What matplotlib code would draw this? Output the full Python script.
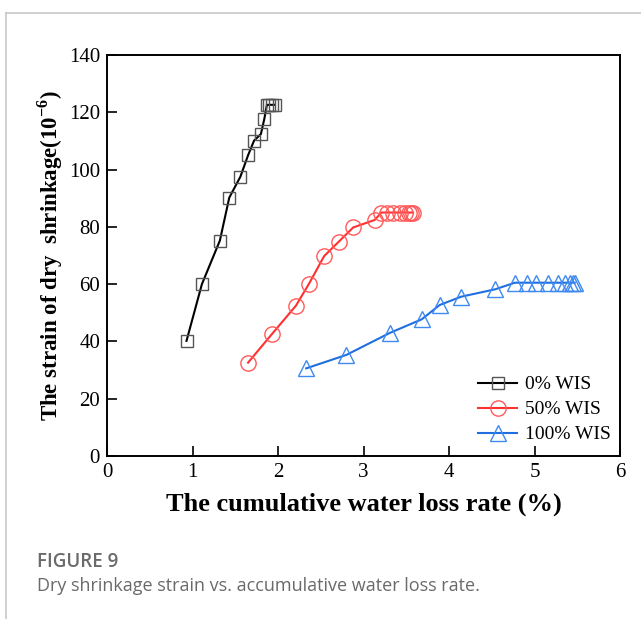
import matplotlib.pyplot as plt
from matplotlib.lines import Line2D

# water loss rate (%) and dry shrinkage strain (10^-6)
x_0 = [0.93, 1.11, 1.32, 1.43, 1.56, 1.65, 1.72, 1.80, 1.84, 1.87, 1.90, 1.93, 1.96]
y_0 = [40.2, 60.0, 75.2, 90.2, 97.5, 105.0, 110.1, 112.4, 117.7, 122.6, 122.6, 122.6, 122.6]

x_50 = [1.65, 1.93, 2.21, 2.36, 2.54, 2.71, 2.88, 3.13, 3.21, 3.27, 3.35, 3.43, 3.49, 3.53, 3.56, 3.58]
y_50 = [32.6, 42.6, 52.5, 60.0, 69.8, 74.8, 79.8, 82.4, 85.0, 85.0, 85.0, 85.0, 85.0, 85.0, 85.0, 85.0]

x_100 = [2.33, 2.80, 3.31, 3.68, 3.89, 4.14, 4.54, 4.77, 4.91, 5.02, 5.16, 5.28, 5.36, 5.41, 5.45, 5.47]
y_100 = [30.6, 35.3, 43.0, 47.7, 52.7, 55.6, 58.2, 60.5, 60.5, 60.5, 60.5, 60.5, 60.5, 60.5, 60.5, 60.5]

labels = ['0% WIS', '50% WIS', '100% WIS']

W, H = 641, 619
fig = plt.figure(figsize=(W / 100, H / 100), dpi=100)
plt.rcParams['font.family'] = ['Liberation Serif', 'DejaVu Serif']
plt.rcParams['mathtext.fontset'] = 'custom'
plt.rcParams['mathtext.rm'] = 'Liberation Serif'
plt.rcParams['mathtext.bf'] = 'Liberation Serif:bold'

ax = fig.add_axes([107 / W, (H - 456) / H, 513 / W, 401 / H])

ax.plot(x_0, y_0, '-', color='black', lw=1.5, marker='s', ms=9,
        mfc='none', mec='#555555', mew=1.0, label=labels[0])
ax.plot(x_50, y_50, '-', color='#ff3030', lw=1.5, marker='o', ms=11,
        mfc='none', mec='#ff5a5a', mew=1.0, label=labels[1])
ax.plot(x_100, y_100, '-', color='#1f6fe0', lw=1.5, marker='^', ms=12,
        mfc='none', mec='#3f8af0', mew=1.0, label=labels[2])

ax.set_xlim(0, 6)
ax.set_ylim(0, 140)
ax.set_xticks(range(0, 7))
ax.set_yticks(range(0, 141, 20))
ax.tick_params(direction='in', length=7, width=1.2, labelsize=15, pad=5)
for s in ax.spines.values():
    s.set_linewidth(1.4)

ax.set_xlabel('The cumulative water loss rate (%)', fontsize=19, fontweight='bold', labelpad=8)
ax.set_ylabel(r'The strain of dry  shrinkage(10$^{\mathbf{-6}}$)', fontsize=16.5,
              fontweight='bold', labelpad=3)

ax.legend(loc='lower right', bbox_to_anchor=(1.016, -0.012), frameon=False, fontsize=14,
          handlelength=2.0, handletextpad=0.4, labelspacing=0.38, borderaxespad=0.5)

# page frame and caption
fig.add_artist(Line2D([6 / W, 1], [1 - 13 / H, 1 - 13 / H], color='#c8c8c8', lw=1.2))
fig.add_artist(Line2D([6 / W, 6 / W], [0, 1 - 13 / H], color='#c8c8c8', lw=1.2))
fig.text(37 / W, 1 - 562 / H, 'FIGURE 9', family='Open Sans', fontsize=13.5,
         fontweight='semibold', color='#6a6a6a', va='center')
fig.text(37 / W, 1 - 586 / H, 'Dry shrinkage strain vs. accumulative water loss rate.',
         family='Open Sans', fontsize=13, color='#6a6a6a', va='center')

plt.savefig('out.png', dpi=100)
